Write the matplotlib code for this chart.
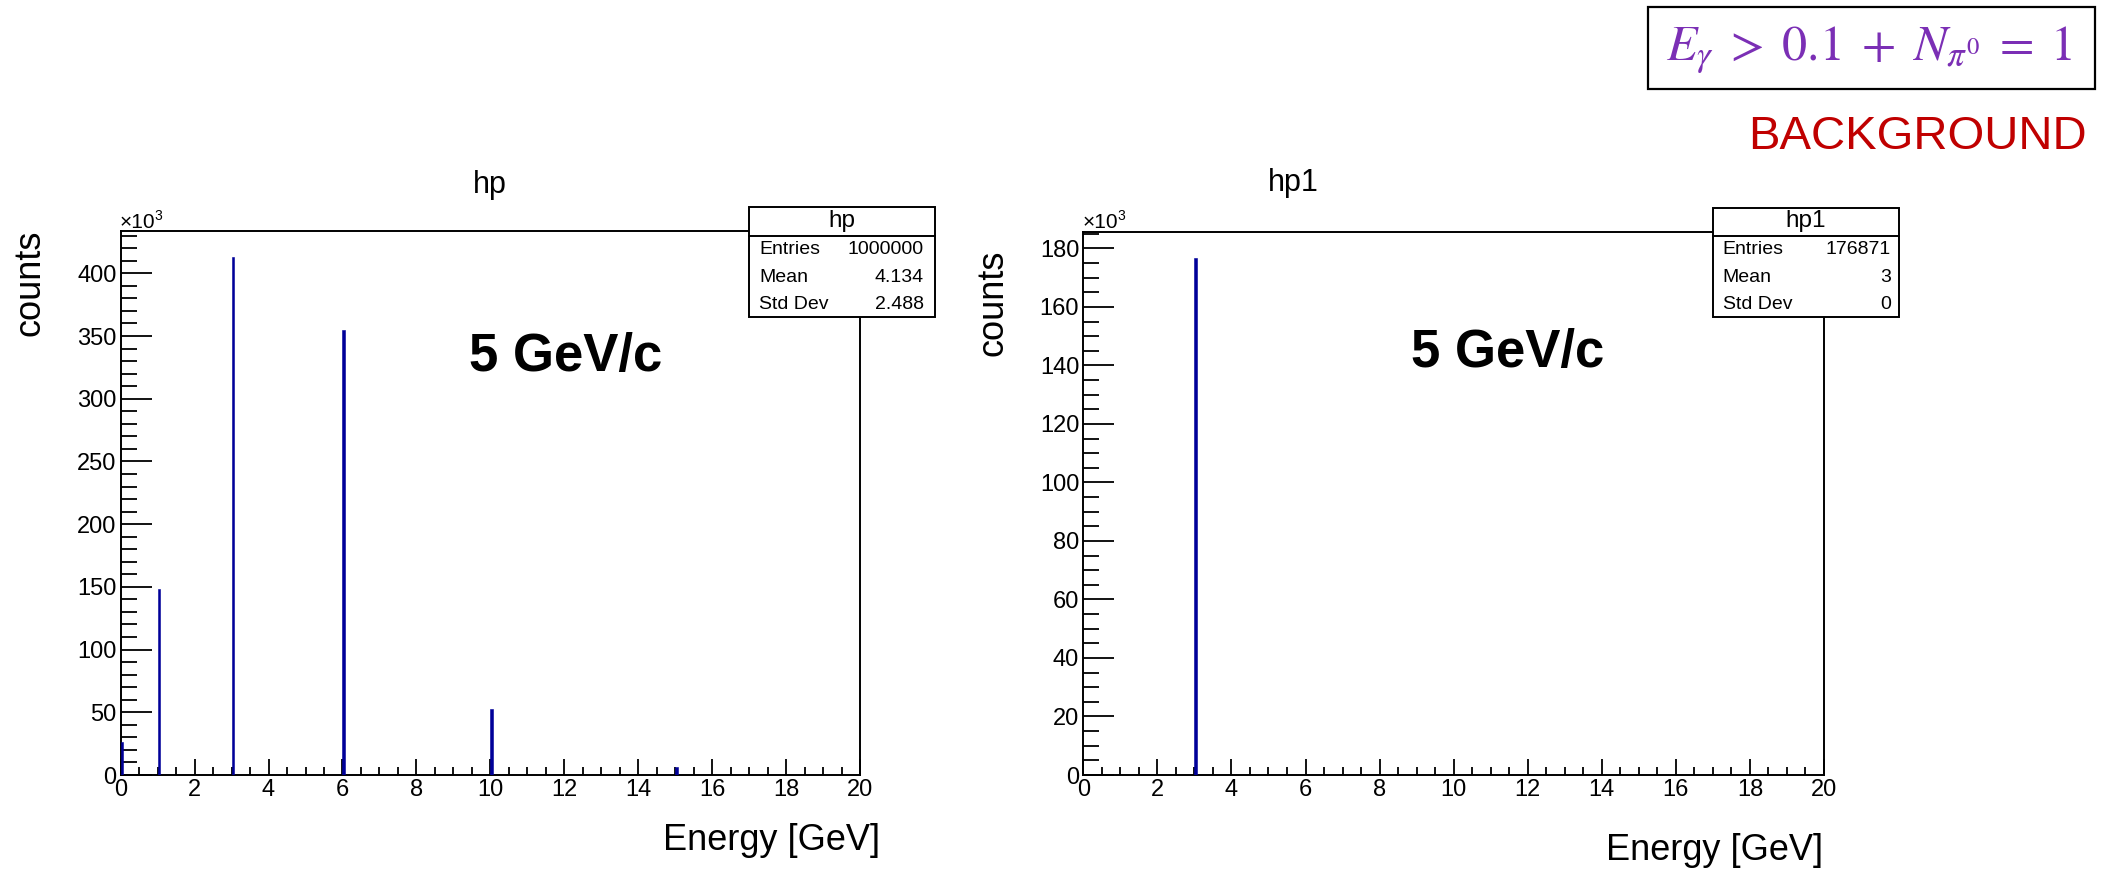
import matplotlib
matplotlib.use("Agg")
import matplotlib.pyplot as plt
from matplotlib.patches import Rectangle
from matplotlib.lines import Line2D
from matplotlib.ticker import MultipleLocator, FuncFormatter

plt.rcParams['font.family'] = ['Liberation Sans', 'DejaVu Sans']
plt.rcParams['mathtext.fontset'] = 'stix'

W, H = 2114, 873

# ---- data ----
hp_energy = [0, 1, 3, 6, 10, 15]
hp_counts = [26500, 148100, 413300, 354900, 52400, 6600]
hp1_energy = [3]
hp1_counts = [176871]

stat_labels = ["Entries", "Mean", "Std Dev"]
hp_stats = ["1000000", "4.134", "2.488"]
hp1_stats = ["176871", "3", "0"]

x_range = (0, 20)
bin_width = 0.07
bar_color = "#000099"


def fx(px):
    return px / W


def fy(py):
    return 1 - py / H


fig = plt.figure(figsize=(W / 100, H / 100), dpi=100)
fig.patch.set_facecolor("white")


def make_axes(x0, y0, x1, y1):
    return fig.add_axes([fx(x0), fy(y1), fx(x1) - fx(x0), fy(y0) - fy(y1)])


def style_axes(ax, ymax, ymajor, yminor, ylen):
    ax.set_xlim(*x_range)
    ax.set_ylim(0, ymax)
    ax.xaxis.set_major_locator(MultipleLocator(2))
    ax.xaxis.set_minor_locator(MultipleLocator(0.5))
    ax.yaxis.set_major_locator(MultipleLocator(ymajor))
    ax.yaxis.set_minor_locator(MultipleLocator(yminor))
    ax.yaxis.set_major_formatter(FuncFormatter(lambda v, p: f"{v / 1000:g}"))
    ax.tick_params(axis="both", which="both", direction="in", top=False,
                   right=False, colors="black", width=1.3, labelsize=17)
    ax.tick_params(axis="x", which="major", length=11.5, pad=3)
    ax.tick_params(axis="x", which="minor", length=6)
    ax.tick_params(axis="y", which="major", length=ylen, pad=3)
    ax.tick_params(axis="y", which="minor", length=ylen * 0.52)
    for s in ax.spines.values():
        s.set_linewidth(1.4)
        s.set_color("black")
    ax.patch.set_alpha(0)


def stats_box(x0, x1, y0, y1, title, values, lab_x, val_x):
    fig.add_artist(Rectangle((fx(x0), fy(y1)), fx(x1) - fx(x0), fy(y0) - fy(y1),
                             transform=fig.transFigure, facecolor="white",
                             edgecolor="black", linewidth=1.4, zorder=5))
    fig.add_artist(Line2D([fx(x0), fx(x1)], [fy(235.7), fy(235.7)],
                          transform=fig.transFigure, color="black",
                          linewidth=1.4, zorder=6))
    fig.text(fx((x0 + x1) / 2), fy(221), title, ha="center", va="center",
             fontsize=17.5, zorder=7)
    for lab, val, yy in zip(stat_labels, values, [250, 277.3, 304.3]):
        fig.text(fx(lab_x), fy(yy), lab, ha="left", va="center", fontsize=14, zorder=7)
        fig.text(fx(val_x), fy(yy), val, ha="right", va="center", fontsize=14, zorder=7)


def exponent_label(x, y):
    fig.text(fx(x), fy(y), "×10", ha="left", va="center", fontsize=15)
    fig.text(fx(x + 34), fy(y - 7), "3", ha="left", va="center", fontsize=10)


# ---- left histogram: hp ----
ax1 = make_axes(120.7, 230.7, 860, 775)
ax1.bar(hp_energy, hp_counts, width=bin_width, align="edge", color=bar_color,
        edgecolor=bar_color, linewidth=0.4, zorder=3)
style_axes(ax1, 1.05 * max(hp_counts), 50000, 10000, 22)

# ---- right histogram: hp1 ----
ax2 = make_axes(1083.3, 231.7, 1824, 775)
ax2.bar(hp1_energy, hp1_counts, width=bin_width, align="edge", color=bar_color,
        edgecolor=bar_color, linewidth=0.4, zorder=3)
style_axes(ax2, 1.05 * max(hp1_counts), 20000, 5000, 22.5)

# titles
fig.text(fx(490), fy(185), "hp", ha="center", va="center", fontsize=22)
fig.text(fx(1293), fy(183), "hp1", ha="center", va="center", fontsize=22)

# exponent labels
exponent_label(120, 223)
exponent_label(1083, 223)

# axis labels
fig.text(fx(30), fy(283), "counts", ha="center", va="center", rotation=90, fontsize=26)
fig.text(fx(993), fy(303), "counts", ha="center", va="center", rotation=90, fontsize=26)
fig.text(fx(880), fy(840), "Energy [GeV]", ha="right", va="center", fontsize=26)
fig.text(fx(1823), fy(850), "Energy [GeV]", ha="right", va="center", fontsize=26)

# beam momentum
fig.text(fx(566), fy(357), "5 GeV/c", ha="center", va="center", fontsize=38,
         fontweight="bold")
fig.text(fx(1508), fy(353), "5 GeV/c", ha="center", va="center", fontsize=38,
         fontweight="bold")

# stats boxes
stats_box(749.3, 935, 207.3, 316.7, "hp", hp_stats, 759, 924)
stats_box(1712.7, 1899, 208.3, 316.7, "hp1", hp1_stats, 1722.7, 1890.7)

# selection label
fig.add_artist(Rectangle((fx(1648), fy(89.3)), fx(2095) - fx(1648), fy(6.7) - fy(89.3),
                         transform=fig.transFigure, facecolor="white",
                         edgecolor="black", linewidth=1.6, zorder=5))
fig.text(fx(1869), fy(50),
         r"$E_{\gamma}\;>\;0.1\;+\;N_{\pi^{0}}\;=\;1$", ha="center",
         va="center", fontsize=36, color="#7b2fb5", zorder=7)
fig.text(fx(2087), fy(137), "BACKGROUND", ha="right", va="center", fontsize=34,
         color="#c00000")

fig.savefig("out.png", dpi=100)
